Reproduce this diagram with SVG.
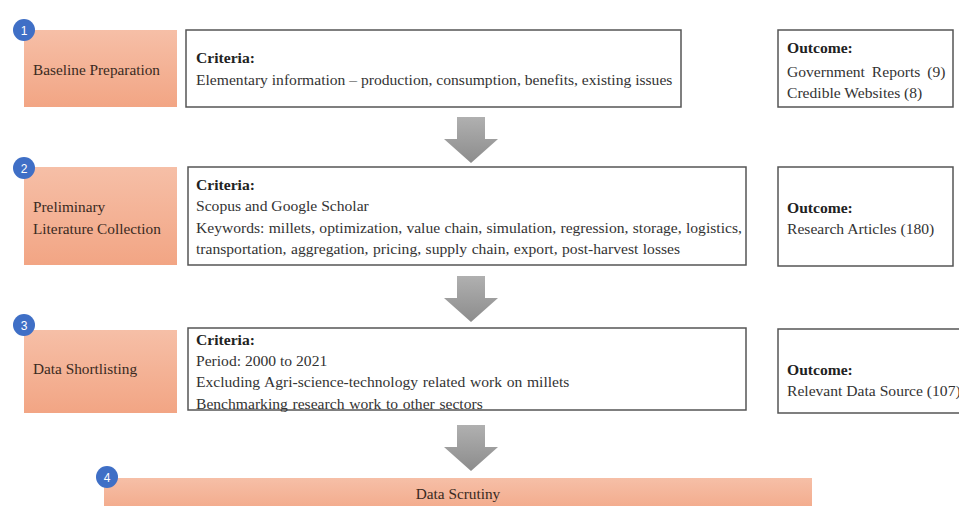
<svg xmlns="http://www.w3.org/2000/svg" width="959" height="506" viewBox="0 0 959 506">
  <defs>
    <linearGradient id="stepFill" x1="0" y1="0" x2="0" y2="1">
      <stop offset="0" stop-color="#F6BFA7"/>
      <stop offset="1" stop-color="#F2A584"/>
    </linearGradient>
    <linearGradient id="arrowFill" x1="0" y1="0" x2="0" y2="1">
      <stop offset="0" stop-color="#B0B0B0"/>
      <stop offset="1" stop-color="#8C8C8C"/>
    </linearGradient>
    <path id="downArrow" d="M-14,0 H14 V22 H27 L0,46 L-27,22 H-14 Z"/>
  </defs>
  <style>
    .step { fill: url(#stepFill); }
    .box { fill: #FFFFFF; stroke: #555555; stroke-width: 1.5; }
    .badge { fill: #3F6FC6; }
    .badgeNum { font-family: "Liberation Sans", Arial, sans-serif; font-size: 12px; fill: #FFFFFF; text-anchor: middle; }
    .label { font-family: "Liberation Serif", "Times New Roman", serif; font-size: 15.3px; fill: #3A2A22; }
    .txt { font-family: "Liberation Serif", "Times New Roman", serif; font-size: 15.6px; fill: #333333; }
    .hd { font-weight: bold; fill: #222222; }
    .arrow { fill: url(#arrowFill); }
  </style>

  <!-- connectors: block arrows between stages -->
  <g id="connectors">
    <use href="#downArrow" class="arrow" x="471" y="117"/>
    <use href="#downArrow" class="arrow" x="471" y="276"/>
    <use href="#downArrow" class="arrow" x="471" y="425"/>
  </g>

  <!-- stage 1 -->
  <g id="stage1">
    <rect class="step" x="24" y="30" width="153" height="77"/>
    <text class="label" x="33" y="75">Baseline Preparation</text>
    <circle class="badge" cx="24" cy="30" r="11"/>
    <text class="badgeNum" x="24" y="34.5">1</text>
  </g>
  <g id="criteria1">
    <rect class="box" x="186" y="30" width="495" height="77"/>
    <text class="txt hd" x="196" y="63">Criteria:</text>
    <text class="txt" x="196" y="85">Elementary information – production, consumption, benefits, existing issues</text>
  </g>
  <g id="outcome1">
    <rect class="box" x="778" y="30" width="175" height="77"/>
    <text class="txt hd" x="787" y="53">Outcome:</text>
    <text class="txt" x="787" y="77" word-spacing="3">Government Reports (9)</text>
    <text class="txt" x="787" y="98">Credible Websites (8)</text>
  </g>

  <!-- stage 2 -->
  <g id="stage2">
    <rect class="step" x="24" y="167" width="153" height="98"/>
    <text class="label" x="33" y="212">Preliminary</text>
    <text class="label" x="33" y="234">Literature Collection</text>
    <circle class="badge" cx="24" cy="168" r="11"/>
    <text class="badgeNum" x="24" y="172.5">2</text>
  </g>
  <g id="criteria2">
    <rect class="box" x="188" y="167" width="558" height="98"/>
    <text class="txt hd" x="196" y="190">Criteria:</text>
    <text class="txt" x="196" y="211">Scopus and Google Scholar</text>
    <text class="txt" x="196" y="233" word-spacing="0.4">Keywords: millets, optimization, value chain, simulation, regression, storage, logistics,</text>
    <text class="txt" x="196" y="254" word-spacing="0.6">transportation, aggregation, pricing, supply chain, export, post-harvest losses</text>
  </g>
  <g id="outcome2">
    <rect class="box" x="778" y="167" width="175" height="99"/>
    <text class="txt hd" x="787" y="213">Outcome:</text>
    <text class="txt" x="787" y="234">Research Articles (180)</text>
  </g>

  <!-- stage 3 -->
  <g id="stage3">
    <rect class="step" x="24" y="330" width="153" height="83"/>
    <text class="label" x="33" y="374">Data Shortlisting</text>
    <circle class="badge" cx="24" cy="325" r="11"/>
    <text class="badgeNum" x="24" y="329.5">3</text>
  </g>
  <g id="criteria3">
    <rect class="box" x="188" y="328" width="558" height="82"/>
    <text class="txt hd" x="196" y="345">Criteria:</text>
    <text class="txt" x="196" y="366">Period: 2000 to 2021</text>
    <text class="txt" x="196" y="387" word-spacing="0.8">Excluding Agri-science-technology related work on millets</text>
    <text class="txt" x="196" y="409" word-spacing="0.8">Benchmarking research work to other sectors</text>
  </g>
  <g id="outcome3">
    <rect class="box" x="778" y="329" width="190" height="84"/>
    <text class="txt hd" x="787" y="375">Outcome:</text>
    <text class="txt" x="787" y="396">Relevant Data Source (107)</text>
  </g>

  <!-- stage 4 -->
  <g id="stage4">
    <rect class="step" x="104" y="478" width="708" height="40"/>
    <text class="label" x="458" y="499" text-anchor="middle">Data Scrutiny</text>
    <circle class="badge" cx="107" cy="477" r="11"/>
    <text class="badgeNum" x="107" y="481.5">4</text>
  </g>
</svg>
